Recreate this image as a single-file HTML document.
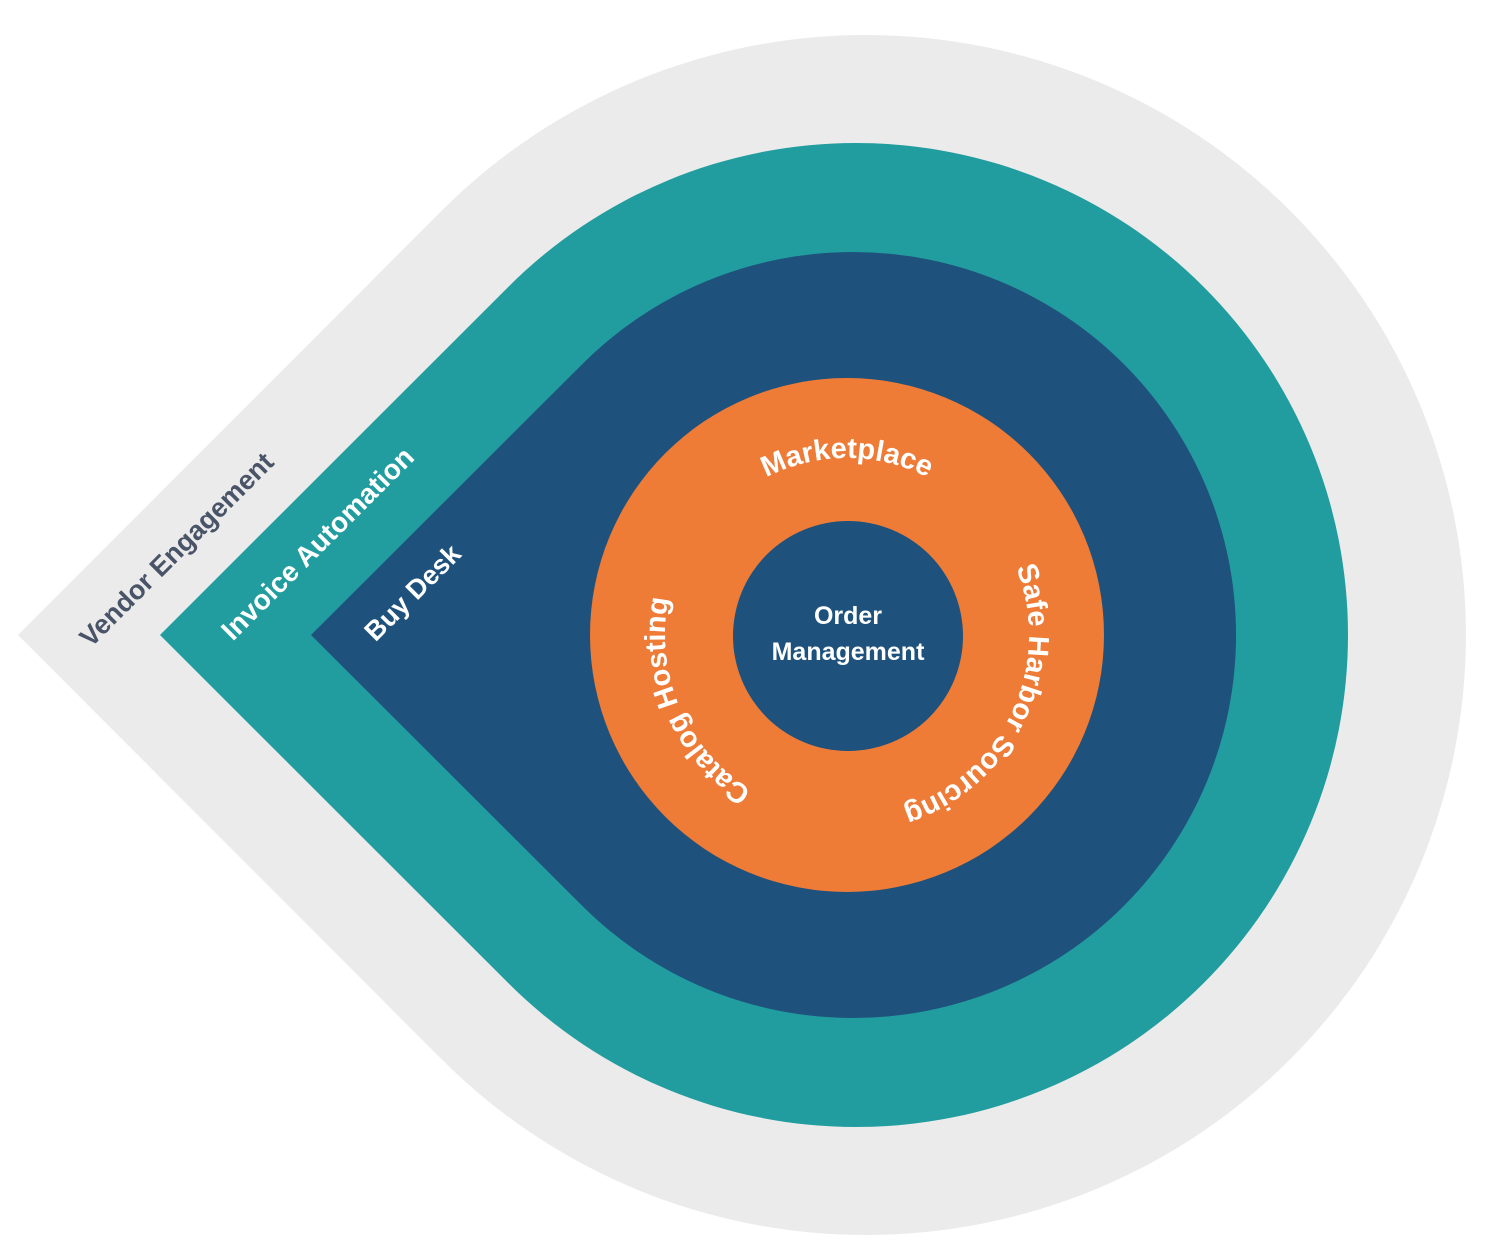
<!DOCTYPE html>
<html><head><meta charset="utf-8"><style>
html,body{margin:0;padding:0;background:#fff}
svg{display:block}
text{font-family:"Liberation Sans",sans-serif;font-weight:bold}
</style></head><body>
<svg width="1496" height="1248" viewBox="0 0 1496 1248">
<path d="M18,635 L441.7,210.7 A600,600 0 1 1 441.7,1059.3 Z" fill="#ebebeb"/>
<path d="M160,635 L508.1,287.1 A492,492 0 1 1 508.1,982.9 Z" fill="#219d9f"/>
<path d="M311,635 L582.2,364.2 A383,383 0 1 1 582.2,905.8 Z" fill="#1e527c"/>
<circle cx="847" cy="635" r="257" fill="#ee7b36"/>
<circle cx="848" cy="636" r="115" fill="#1e527c"/>
<defs>
<path id="c1" d="M1024,635 A177,177 0 1 1 670,635 A177,177 0 1 1 1024,635"/>
<path id="c2" d="M665,635 A182,182 0 1 1 1029,635 A182,182 0 1 1 665,635"/>
<path id="c3" d="M1029,635 A182,182 0 1 1 665,635 A182,182 0 1 1 1029,635"/>
</defs>
<text font-size="29" fill="#fff" text-anchor="middle"><textPath href="#c1" startOffset="75%">Marketplace</textPath></text>
<text font-size="29" fill="#fff" text-anchor="middle"><textPath href="#c2" startOffset="57%">Safe Harbor Sourcing</textPath></text>
<text font-size="29" fill="#fff" text-anchor="middle"><textPath href="#c3" startOffset="43.5%">Catalog Hosting</textPath></text>
<text x="848" y="624" font-size="25" fill="#fff" text-anchor="middle">Order</text>
<text x="848" y="660" font-size="25" fill="#fff" text-anchor="middle">Management</text>
<text transform="translate(178,551) rotate(-45)" font-size="27" fill="#4a5468" text-anchor="middle" dominant-baseline="middle">Vendor Engagement</text>
<text transform="translate(319,545) rotate(-45)" font-size="28" fill="#fff" text-anchor="middle" dominant-baseline="middle">Invoice Automation</text>
<text transform="translate(414,594) rotate(-45)" font-size="27" fill="#fff" text-anchor="middle" dominant-baseline="middle">Buy Desk</text>
</svg>
</body></html>
